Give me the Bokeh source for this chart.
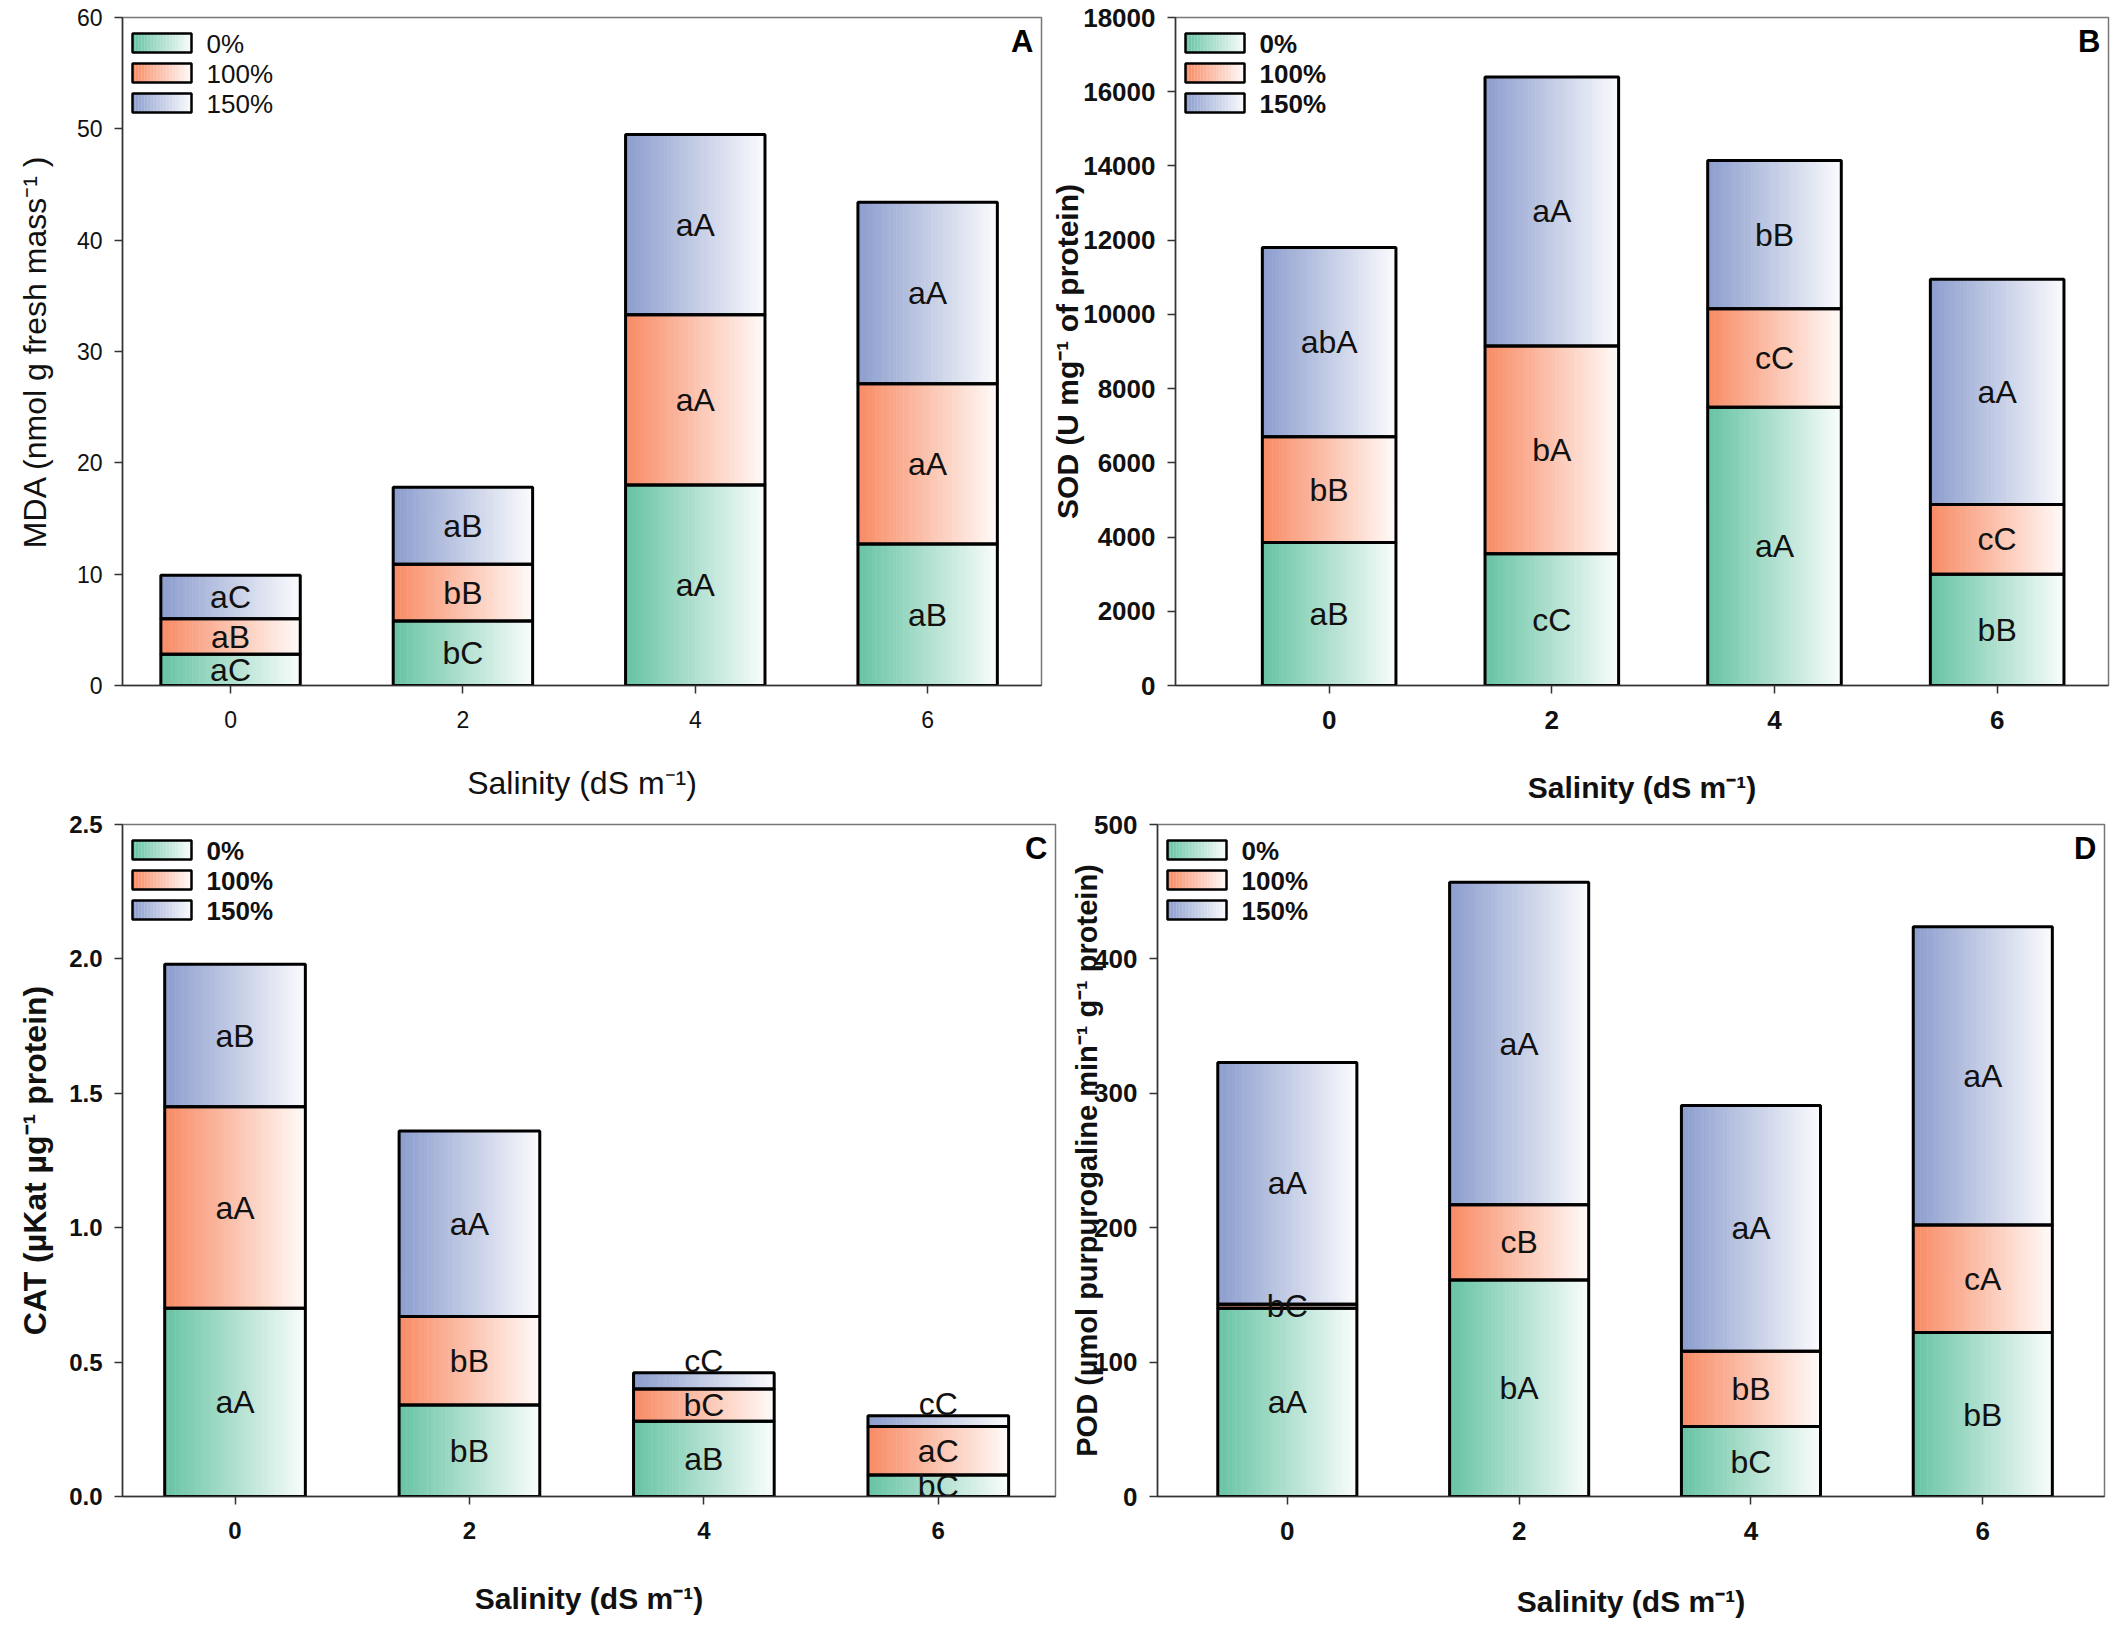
from bokeh.plotting import figure
from bokeh.models import Range1d, FixedTicker, PrintfTickFormatter
from bokeh.layouts import column, row
from bokeh.embed import file_html
from bokeh.resources import INLINE
from bokeh.core.properties import value

# ---------------- data ----------------
salinity = [0, 2, 4, 6]
series_names = ["0%", "100%", "150%"]

mda_0 = [2.8, 5.8, 18.0, 12.7]
mda_100 = [3.2, 5.1, 15.3, 14.4]
mda_150 = [3.9, 6.9, 16.2, 16.3]
mda_let_0 = ["aC", "bC", "aA", "aB"]
mda_let_100 = ["aB", "bB", "aA", "aA"]
mda_let_150 = ["aC", "aB", "aA", "aA"]

sod_0 = [3850, 3550, 7500, 3000]
sod_100 = [2850, 5600, 2650, 1880]
sod_150 = [5100, 7250, 4000, 6070]
sod_let_0 = ["aB", "cC", "aA", "bB"]
sod_let_100 = ["bB", "bA", "cC", "cC"]
sod_let_150 = ["abA", "aA", "bB", "aA"]

cat_0 = [0.70, 0.34, 0.28, 0.08]
cat_100 = [0.75, 0.33, 0.12, 0.18]
cat_150 = [0.53, 0.69, 0.06, 0.04]
cat_let_0 = ["aA", "bB", "aB", "bC"]
cat_let_100 = ["aA", "bB", "bC", "aC"]
cat_let_150 = ["aB", "aA", "cC", "cC"]

pod_0 = [140, 161, 52, 122]
pod_100 = [3, 56, 56, 80]
pod_150 = [180, 240, 183, 222]
pod_let_0 = ["aA", "bA", "bC", "bB"]
pod_let_100 = ["bC", "cB", "bB", "cA"]
pod_let_150 = ["aA", "aA", "aA", "aA"]

# ---------------- style ----------------
BASE_COLORS = [(104, 196, 164), (248, 140, 102), (141, 158, 206)]
BAR_W = 1.2
NS = 40
FONT = value("Liberation Sans")


def grad_color(c, t):
    r, g, b = (int(round(c[i] + (255 - c[i]) * t)) for i in range(3))
    return "#%02x%02x%02x" % (r, g, b)


def make_panel(letter, series, letters, ymax, ystep, ylabel, xr, fw, fh,
               bl, br, bt, bb, bold, ylab_standoff, xlab_standoff,
               tick_fs, xlab_fs, ylab_fs, tick_fmt=None):
    weight = "bold" if bold else "normal"
    p = figure(frame_width=fw, frame_height=fh, x_range=Range1d(*xr),
               y_range=Range1d(0, ymax), output_backend="svg",
               toolbar_location=None, min_border_left=bl, min_border_right=br,
               min_border_top=bt, min_border_bottom=bb)
    p.xgrid.visible = False
    p.ygrid.visible = False
    p.background_fill_color = "white"
    p.outline_line_color = "#777777"
    p.outline_line_width = 1.5

    # gradient slices for stacked bars
    L, R, B, T, C = [], [], [], [], []
    OL, OR, OB, OT = [], [], [], []
    tx, ty, tt = [], [], []
    for i, x in enumerate(salinity):
        bottom = 0.0
        for s in range(3):
            h = series[s][i]
            top = bottom + h
            x0 = x - BAR_W / 2
            for k in range(NS):
                L.append(x0 + k * BAR_W / NS)
                R.append(x0 + (k + 1.15) * BAR_W / NS if k < NS - 1 else x0 + BAR_W)
                B.append(bottom)
                T.append(top)
                C.append(grad_color(BASE_COLORS[s], 0.95 * k / (NS - 1)))
            OL.append(x0); OR.append(x0 + BAR_W); OB.append(bottom); OT.append(top)
            tx.append(x)
            if s == 2 and h < 0.03 * ymax:
                ty.append(top + 0.018 * ymax)
            else:
                ty.append((bottom + top) / 2)
            tt.append(letters[s][i])
            bottom = top
    p.quad(left=L, right=R, bottom=B, top=T, fill_color=C, line_color=None)
    p.quad(left=OL, right=OR, bottom=OB, top=OT, fill_color=None,
           line_color="black", line_width=3)
    p.text(x=tx, y=ty, text=tt, text_align="center", text_baseline="middle",
           text_font=FONT, text_font_size="32px", text_color="#111111")

    # legend in pixel coordinates of the frame
    p.extra_x_ranges = {"px": Range1d(0, fw)}
    p.extra_y_ranges = {"py": Range1d(fh, 0)}
    LL, LR, LB, LT, LC = [], [], [], [], []
    oL, oR, oB, oT = [], [], [], []
    lx, ly, lt = [], [], []
    for s in range(3):
        top = 16 + 30 * s
        bot = top + 19
        for k in range(NS):
            LL.append(10 + k * 59 / NS)
            LR.append(10 + (k + 1.15) * 59 / NS if k < NS - 1 else 69)
            LB.append(bot); LT.append(top)
            LC.append(grad_color(BASE_COLORS[s], 0.95 * k / (NS - 1)))
        oL.append(10); oR.append(69); oB.append(bot); oT.append(top)
        lx.append(84); ly.append(top + 10); lt.append(series_names[s])
    p.quad(left=LL, right=LR, bottom=LB, top=LT, fill_color=LC, line_color=None,
           x_range_name="px", y_range_name="py")
    p.quad(left=oL, right=oR, bottom=oB, top=oT, fill_color=None,
           line_color="black", line_width=2.5, x_range_name="px", y_range_name="py")
    p.text(x=lx, y=ly, text=lt, text_align="left", text_baseline="middle",
           text_font=FONT, text_font_size="26px", text_font_style=weight,
           text_color="#111111", x_range_name="px", y_range_name="py")
    p.text(x=[fw - 8], y=[24], text=[letter], text_align="right",
           text_baseline="middle", text_font=FONT, text_font_size="31px",
           text_font_style="bold", text_color="black",
           x_range_name="px", y_range_name="py")

    # axes
    for ax in (p.xaxis[0], p.yaxis[0]):
        ax.axis_line_color = "#333333"
        ax.axis_line_width = 1.5
        ax.major_tick_line_color = "#333333"
        ax.major_tick_line_width = 1.5
        ax.major_tick_out = 8
        ax.major_tick_in = 0
        ax.minor_tick_line_color = None
        ax.major_label_text_font = "Liberation Sans"
        ax.major_label_text_font_size = tick_fs
        ax.major_label_text_font_style = weight
        ax.major_label_text_color = "#111111"
        ax.axis_label_text_font = "Liberation Sans"
        ax.axis_label_text_font_style = weight
        ax.axis_label_text_color = "#111111"
    p.xaxis[0].axis_label_text_font_size = xlab_fs
    p.yaxis[0].axis_label_text_font_size = ylab_fs
    p.xaxis[0].ticker = FixedTicker(ticks=salinity)
    p.xaxis[0].major_label_standoff = 17
    p.xaxis[0].axis_label = "Salinity (dS m⁻¹)"
    p.xaxis[0].axis_label_standoff = xlab_standoff
    nt = int(round(ymax / ystep))
    p.yaxis[0].ticker = FixedTicker(ticks=[ystep * j for j in range(nt + 1)])
    p.yaxis[0].major_label_standoff = 12
    p.yaxis[0].axis_label = ylabel
    p.yaxis[0].axis_label_standoff = ylab_standoff
    if tick_fmt:
        p.yaxis[0].formatter = PrintfTickFormatter(format=tick_fmt)
    return p


pA = make_panel("A", [mda_0, mda_100, mda_150], [mda_let_0, mda_let_100, mda_let_150],
                60, 10, "MDA (nmol g fresh mass⁻¹ )", (-0.93, 6.98), 919, 668,
                122, 7, 17, 125, False, 21, 34, "23px", "32px", "32px")
pB = make_panel("B", [sod_0, sod_100, sod_150], [sod_let_0, sod_let_100, sod_let_150],
                18000, 2000, "SOD (U mg⁻¹ of protein)", (-1.38, 7.0), 933, 668,
                126, 8, 17, 125, True, -4, 39, "26px", "30px", "30px")
pC = make_panel("C", [cat_0, cat_100, cat_150], [cat_let_0, cat_let_100, cat_let_150],
                2.5, 0.5, "CAT (µKat µg⁻¹ protein)", (-0.96, 7.0), 933, 672,
                122, 7, 14, 128, True, 13, 40, "24px", "30px", "32px", "%.1f")
pD = make_panel("D", [pod_0, pod_100, pod_150], [pod_let_0, pod_let_100, pod_let_150],
                500, 100, "POD (µmol purpurogaline min⁻¹ g⁻¹ protein)", (-1.12, 7.05), 947, 672,
                95, 8, 14, 128, True, -12, 42, "26px", "30px", "29px")

layout = column(row(pA, pB), row(pC, pD))
open("out.html", "w").write(file_html(layout, INLINE))
